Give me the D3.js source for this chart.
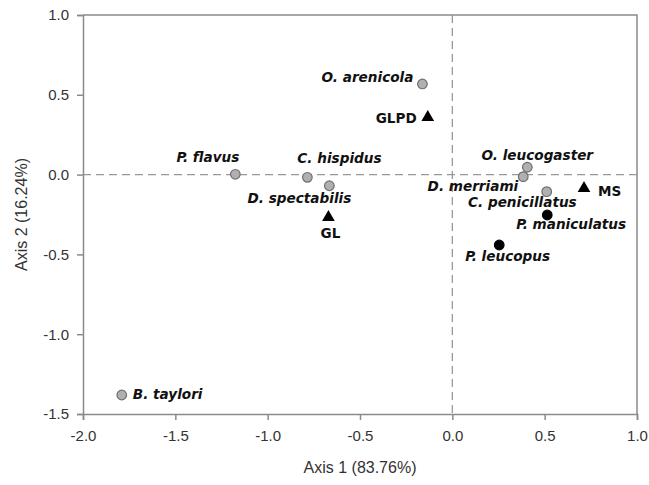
<!DOCTYPE html>
<html>
<head>
<meta charset="utf-8">
<script src="https://cdn.jsdelivr.net/npm/d3@7"></script>
<style>
  body { margin: 0; background: #fff; }
  svg { display: block; }
</style>
</head>
<body>
<div id="app"></div>
<script>
// ordination scores
const names = ["O. arenicola", "GLPD", "C. hispidus", "D. spectabilis", "GL", "P. flavus",
  "O. leucogaster", "D. merriami", "C. penicillatus", "MS", "P. maniculatus", "P. leucopus", "B. taylori"]
const axis1 = [-0.162, -0.133, -0.785, -0.666, -0.671, -1.175, 0.406, 0.384, 0.511, 0.713, 0.514, 0.254, -1.79]
const axis2 = [0.568, 0.359, -0.017, -0.07, -0.268, 0.002, 0.046, -0.013, -0.107, -0.086, -0.253, -0.441, -1.381]
// species = grey dot, peromyscus = black dot, site = triangle
const kinds = ["species", "site", "species", "species", "site", "species",
  "species", "species", "species", "site", "peromyscus", "peromyscus", "species"]

const xTicks = [-2.0, -1.5, -1.0, -0.5, 0.0, 0.5, 1.0]
const yTicks = [-1.5, -1.0, -0.5, 0.0, 0.5, 1.0]
const xTitle = "Axis 1 (83.76%)"
const yTitle = "Axis 2 (16.24%)"

// where each label sits relative to its marker
const labelPos = {
  "O. arenicola": ["end", -9, -2],
  "GLPD": ["end", -11, 6],
  "C. hispidus": ["start", -10, -14],
  "D. spectabilis": ["end", 22, 17],
  "GL": ["middle", 2, 21],
  "P. flavus": ["end", 4, -12],
  "O. leucogaster": ["middle", 10, -7],
  "D. merriami": ["end", -5, 14],
  "C. penicillatus": ["end", 30, 15],
  "MS": ["start", 14, 8],
  "P. maniculatus": ["start", -31, 14],
  "P. leucopus": ["start", -34, 16],
  "B. taylori": ["start", 11, 4]
}

const width = 649
const height = 485
const margin = { left: 83, right: 12, top: 15, bottom: 71 }

const svg = d3.select('#app')
  .append('svg')
  .attr('width', width)
  .attr('height', height)

const x = d3.scaleLinear().domain([-2, 1]).range([margin.left, width - margin.right])
const y = d3.scaleLinear().domain([-1.5, 1]).range([height - margin.bottom, margin.top])

const axisColor = "#8a8a8a"
const textColor = "#333"

// box top and right
svg.append("path")
  .attr("d", `M${x(-2)},${y(1)}H${x(1)}V${y(-1.5)}`)
  .attr("fill", "none")
  .attr("stroke", axisColor)
  .attr("stroke-width", 1.5)

// zero lines
svg.append("line")
  .attr("x1", x(-2)).attr("x2", x(1))
  .attr("y1", y(0)).attr("y2", y(0))
  .attr("stroke", "#999").attr("stroke-width", 1.3)
  .attr("stroke-dasharray", "8,5")
svg.append("line")
  .attr("x1", x(0)).attr("x2", x(0))
  .attr("y1", y(1)).attr("y2", y(-1.5))
  .attr("stroke", "#999").attr("stroke-width", 1.3)
  .attr("stroke-dasharray", "8,5")

const gx = svg.append("g")
  .attr("transform", `translate(0,${y(-1.5)})`)
  .call(d3.axisBottom(x).tickValues(xTicks).tickFormat(d3.format(".1f")).tickSizeOuter(0).tickSize(6).tickPadding(10))
const gy = svg.append("g")
  .attr("transform", `translate(${x(-2)},0)`)
  .call(d3.axisLeft(y).tickValues(yTicks).tickFormat(d3.format(".1f")).tickSizeOuter(0).tickSize(6).tickPadding(8))

for (const g of [gx, gy]) {
  g.select(".domain").attr("stroke", axisColor).attr("stroke-width", 1.5)
  g.selectAll(".tick line").attr("stroke", axisColor).attr("stroke-width", 1.5)
  g.selectAll(".tick text")
    .attr("fill", textColor)
    .style("font-family", "'Liberation Sans', Arial, sans-serif")
    .style("font-size", "15px")
}
// d3.format gives a unicode minus; the picture uses a hyphen
svg.selectAll(".tick text").text(d => d3.format(".1f")(d).replace("−", "-"))

svg.append("text")
  .attr("x", (x(-2) + x(1)) / 2)
  .attr("y", 473)
  .attr("text-anchor", "middle")
  .attr("fill", textColor)
  .style("font-family", "'Liberation Sans', Arial, sans-serif")
  .style("font-size", "16px")
  .text(xTitle)

svg.append("text")
  .attr("transform", `translate(27,${(y(-1.5) + y(1)) / 2}) rotate(-90)`)
  .attr("text-anchor", "middle")
  .attr("fill", textColor)
  .style("font-family", "'Liberation Sans', Arial, sans-serif")
  .style("font-size", "16px")
  .text(yTitle)

const pts = names.map((n, i) => ({ name: n, a1: axis1[i], a2: axis2[i], kind: kinds[i] }))

svg.append("g").selectAll("circle")
  .data(pts.filter(d => d.kind !== "site"))
  .join("circle")
  .attr("cx", d => x(d.a1))
  .attr("cy", d => y(d.a2))
  .attr("r", 4.8)
  .attr("fill", d => d.kind === "species" ? "#b0b0b0" : "#000")
  .attr("stroke", d => d.kind === "species" ? "#6e6e6e" : "#000")
  .attr("stroke-width", 1.2)

const tri = d3.symbol().type(d3.symbolTriangle).size(70)
svg.append("g").selectAll("path")
  .data(pts.filter(d => d.kind === "site"))
  .join("path")
  .attr("transform", d => `translate(${x(d.a1)},${y(d.a2)})`)
  .attr("d", tri)
  .attr("fill", "#000")

svg.append("g").selectAll("text")
  .data(pts)
  .join("text")
  .attr("x", d => x(d.a1) + labelPos[d.name][1])
  .attr("y", d => y(d.a2) + labelPos[d.name][2])
  .attr("text-anchor", d => labelPos[d.name][0])
  .attr("fill", "#111")
  .style("font-family", "'DejaVu Sans', Verdana, sans-serif")
  .style("font-weight", "bold")
  .style("font-style", d => d.kind === "site" ? "normal" : "italic")
  .style("font-size", "13.6px")
  .text(d => d.name)
</script>
</body>
</html>
